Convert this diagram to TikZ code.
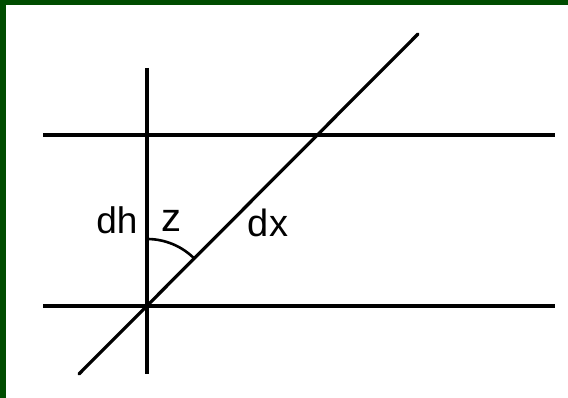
\documentclass[tikz,border=0pt]{standalone}
\usepackage{fontspec}
\setmainfont{Liberation Sans}
\definecolor{frame}{RGB}{0,76,0}
\begin{document}
\begin{tikzpicture}[x=1pt,y=1pt,
  line/.style={line width=3.2pt},
  lbl/.style={inner sep=0pt,anchor=base}]
\useasboundingbox (0,0) rectangle (568,398);
\fill[frame] (0,0) rectangle (568,398);
\fill[white] (6,0) rectangle (568,393);
% named points
\coordinate (h1a) at (43,263);
\coordinate (h1b) at (555,263);
\coordinate (h2a) at (43,92);
\coordinate (h2b) at (555,92);
\coordinate (va) at (147,330);
\coordinate (vb) at (147,24);
\coordinate (da) at (79,24);
\coordinate (db) at (418,364);
\coordinate (o) at (147,92);
\draw[line] (h1a) -- (h1b);
\draw[line] (h2a) -- (h2b);
\draw[line] (va) -- (vb);
\draw[line,line cap=round] (da) -- (db);
\draw[line width=2.6pt] (o) ++(90:67) arc[start angle=90,end angle=45,radius=67];
\node[lbl,font=\fontsize{37}{42}\selectfont] (dh) at (117,164) {dh};
\node[lbl,font=\fontsize{40}{46}\selectfont] (z) at (171,166) {z};
\node[lbl,font=\fontsize{38}{44}\selectfont] (dx) at (268,161) {dx};
\end{tikzpicture}
\end{document}
